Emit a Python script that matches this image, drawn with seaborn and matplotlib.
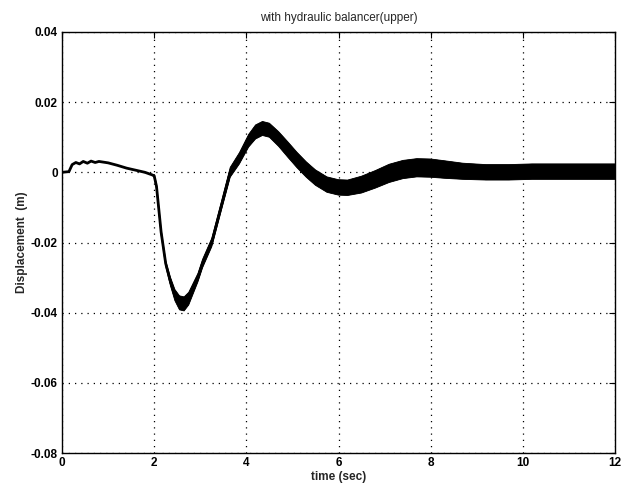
import numpy as np
import pandas as pd
import matplotlib
matplotlib.use("Agg")
import matplotlib.pyplot as plt
import seaborn as sns

# ---- data ----
time = [0.0, 0.15, 0.22, 0.30, 0.38, 0.46, 0.55, 0.63, 0.72, 0.80, 0.90, 1.0,
        1.2, 1.4, 1.6, 1.8, 1.95, 2.0, 2.05, 2.15, 2.25, 2.35, 2.45, 2.55,
        2.65, 2.75, 2.85, 2.95, 3.05, 3.25, 3.45, 3.65, 3.85, 4.05, 4.2,
        4.35, 4.5, 4.7, 4.9, 5.1, 5.3, 5.5, 5.75, 6.0, 6.2, 6.5, 6.8, 7.1,
        7.4, 7.7, 8.0, 8.3, 8.7, 9.2, 9.7, 10.2, 10.7, 11.2, 11.6, 12.0]
displacement = [0.0, 0.0002, 0.0022, 0.0028, 0.0024, 0.0031, 0.0026, 0.0032,
                0.0028, 0.0031, 0.0029, 0.0027, 0.0020, 0.0012, 0.0006, 0.0,
                -0.0007, -0.0010, -0.004, -0.017, -0.026, -0.031, -0.035,
                -0.0372, -0.0375, -0.036, -0.033, -0.030, -0.026, -0.020,
                -0.010, 0.0, 0.004, 0.009, 0.0115, 0.0125, 0.012, 0.0095,
                0.0065, 0.0035, 0.0008, -0.0015, -0.0035, -0.0043, -0.0044,
                -0.0035, -0.0020, -0.0003, 0.0008, 0.0013, 0.0012, 0.0008,
                0.0003, 0.0, 0.0, 0.0002, 0.0002, 0.0002, 0.0002, 0.0002]
# half-width of the high-frequency oscillation band
band = [0.0, 0.0, 0.0, 0.0, 0.0, 0.0, 0.0, 0.0, 0.0, 0.0, 0.0, 0.0,
        0.0, 0.0, 0.0, 0.0, 0.0, 0.0004, 0.0008, 0.0008, 0.0008, 0.0012,
        0.0016, 0.0020, 0.0020, 0.0018, 0.0015, 0.0012, 0.0012, 0.0012,
        0.0012, 0.0014, 0.0016, 0.0018, 0.0020, 0.0020, 0.0020, 0.0021,
        0.0022, 0.0022, 0.0022, 0.0022, 0.0022, 0.0022, 0.0022, 0.0024,
        0.0025, 0.0026, 0.0026, 0.0026, 0.0026, 0.0025, 0.0023, 0.0022,
        0.0022, 0.0022, 0.0022, 0.0022, 0.0022, 0.0022]

xticks = [0, 2, 4, 6, 8, 10, 12]
xticklabels = ["0", "2", "4", "6", "8", "10", "12"]
yticks = [-0.08, -0.06, -0.04, -0.02, 0.0, 0.02, 0.04]
yticklabels = ["-0.08", "-0.06", "-0.04", "-0.02", "0", "0.02", "0.04"]

df = pd.DataFrame({"time": time, "disp": displacement, "band": band})
df["lo"] = df["disp"] - df["band"]
df["hi"] = df["disp"] + df["band"]

sns.set_theme(style="white")
plt.rcParams["font.family"] = ["Liberation Sans", "DejaVu Sans"]
plt.rcParams["hatch.linewidth"] = 1.6

fig = plt.figure(figsize=(6.24, 4.95), dpi=100)
ax = fig.add_axes([0.0994, 0.0848, 0.8862, 0.8506])

ax.fill_between(df["time"], df["lo"], df["hi"], facecolor="#3a3a3a",
                edgecolor="black", hatch="|" * 30, linewidth=0.6, zorder=3)
sns.lineplot(data=df, x="time", y="disp", ax=ax, color="black", linewidth=2.0,
             zorder=4)

ax.set_xlim(0, 12)
ax.set_ylim(-0.08, 0.04)
ax.set_xticks(xticks)
ax.set_xticklabels(xticklabels, fontsize=8.5, fontweight="bold")
ax.set_yticks(yticks)
ax.set_yticklabels(yticklabels, fontsize=8.5, fontweight="bold")

ax.grid(True, linestyle=(0, (1, 4)), color="black", linewidth=0.9)
ax.tick_params(direction="in", length=4, width=0.8, top=True, right=True,
               colors="black", pad=3)
for s in ax.spines.values():
    s.set_visible(True)
    s.set_color("black")
    s.set_linewidth(1.0)

ax.set_title("with hydraulic balancer(upper)", fontsize=8.5, pad=8)
ax.set_xlabel("time (sec)", fontsize=8.5, fontweight="bold", labelpad=1)
ax.set_ylabel("Displacement  (m)", fontsize=8.5, fontweight="bold", labelpad=2)

fig.savefig("out.png", dpi=100, facecolor="white")
